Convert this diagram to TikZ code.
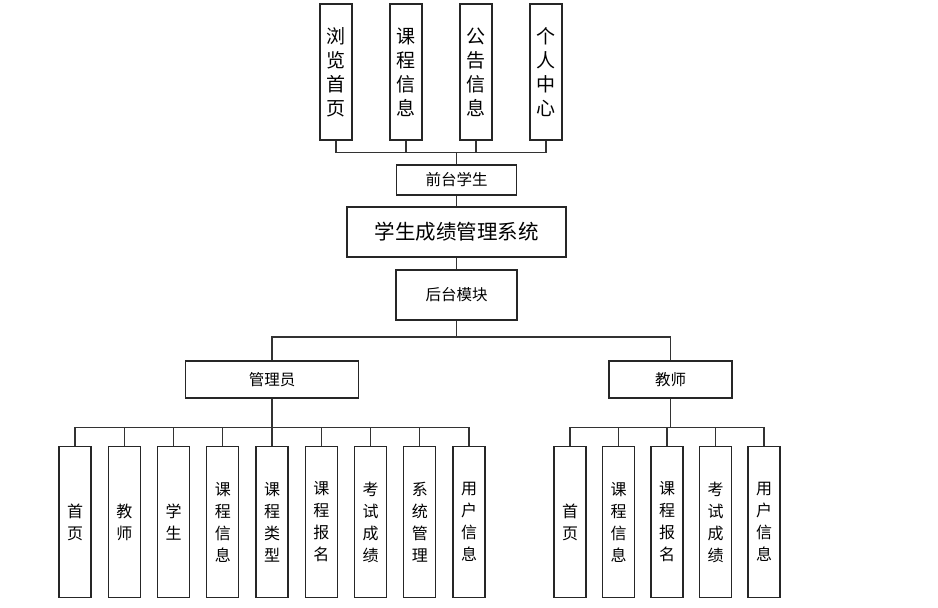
\documentclass[tikz,border=0pt]{standalone}
\usepackage{fontspec}
\newfontfamily\cjk{Noto Sans CJK SC}
\usetikzlibrary{calc}

\begin{document}
\begin{tikzpicture}[x=1pt,y=1pt,sibling distance=0pt,
	every node/.style={rectangle,draw=black!85,line width=1.3pt,inner sep=0pt,align=center,
		font=\cjk\fontsize{15.5}{18}\selectfont},
	edge from parent/.style={draw=black!80,line width=1.3pt},
	straight up/.style={edge from parent path={(\tikzparentnode.north) -- (\tikzchildnode.south)}},
	straight down/.style={edge from parent path={(\tikzparentnode.south) -- (\tikzchildnode.north)}},
	bus up/.style={edge from parent path={(\tikzparentnode.north) |- ($(\tikzparentnode.north)!#1!(\tikzchildnode.south)$) -| (\tikzchildnode.south)}},
	bus down/.style={edge from parent path={(\tikzparentnode.south) |- ($(\tikzparentnode.south)!#1!(\tikzchildnode.north)$) -| (\tikzchildnode.north)}},
	topbox/.style={minimum width=32pt,minimum height=136pt,font=\cjk\fontsize{19}{24}\selectfont},
	leafbox/.style={minimum width=32pt,minimum height=151pt,font=\cjk\fontsize{16}{22}\selectfont}]
\useasboundingbox (0,0) rectangle (938,-608);
\node (sys) at (456.5,-232) [minimum width=219pt,minimum height=50pt,font=\cjk\fontsize{20.5}{24}\selectfont] {学生成绩管理系统}
child[grow'=up,level distance=52pt,straight up] {node (front) [minimum width=120pt,minimum height=30pt] {前台学生}
	child[level distance=108pt,sibling distance=70pt,xshift=-15.5pt,bus up=.5] {node (browse) [topbox] {浏\\览\\首\\页}}
	child[level distance=108pt,sibling distance=70pt,xshift=-15.5pt,bus up=.5] {node (course) [topbox] {课\\程\\信\\息}}
	child[level distance=108pt,sibling distance=70pt,xshift=-15.5pt,bus up=.5] {node (notice) [topbox] {公\\告\\信\\息}}
	child[level distance=108pt,sibling distance=70pt,xshift=-15.5pt,bus up=.5] {node (center) [topbox] {个\\人\\中\\心}}
	}
child[grow=down,level distance=63pt,straight down] {node (back) [minimum width=121pt,minimum height=50pt] {后台模块}
	child[level distance=84.5pt,sibling distance=398.5pt,xshift=14.75pt,bus down=.415] {node (admin) [minimum width=173pt,minimum height=37pt] {管理员}
		child[level distance=142.5pt,sibling distance=49.25pt,bus down=.61] {node (a1) [leafbox] {首\\页}}
		child[level distance=142.5pt,sibling distance=49.25pt,bus down=.61] {node (a2) [leafbox] {教\\师}}
		child[level distance=142.5pt,sibling distance=49.25pt,bus down=.61] {node (a3) [leafbox] {学\\生}}
		child[level distance=142.5pt,sibling distance=49.25pt,bus down=.61] {node (a4) [leafbox] {课\\程\\信\\息}}
		child[level distance=142.5pt,sibling distance=49.25pt,bus down=.61] {node (a5) [leafbox] {课\\程\\类\\型}}
		child[level distance=142.5pt,sibling distance=49.25pt,bus down=.61] {node (a6) [leafbox] {课\\程\\报\\名}}
		child[level distance=142.5pt,sibling distance=49.25pt,bus down=.61] {node (a7) [leafbox] {考\\试\\成\\绩}}
		child[level distance=142.5pt,sibling distance=49.25pt,bus down=.61] {node (a8) [leafbox] {系\\统\\管\\理}}
		child[level distance=142.5pt,sibling distance=49.25pt,bus down=.61] {node (a9) [leafbox] {用\\户\\信\\息}}
		}
	child[level distance=84.5pt,sibling distance=398.5pt,xshift=14.75pt,bus down=.415] {node (teacher) [minimum width=123pt,minimum height=37pt] {教师}
		child[level distance=142.5pt,sibling distance=48.5pt,xshift=-3.5pt,bus down=.61] {node (t1) [leafbox] {首\\页}}
		child[level distance=142.5pt,sibling distance=48.5pt,xshift=-3.5pt,bus down=.61] {node (t2) [leafbox] {课\\程\\信\\息}}
		child[level distance=142.5pt,sibling distance=48.5pt,xshift=-3.5pt,bus down=.61] {node (t3) [leafbox] {课\\程\\报\\名}}
		child[level distance=142.5pt,sibling distance=48.5pt,xshift=-3.5pt,bus down=.61] {node (t4) [leafbox] {考\\试\\成\\绩}}
		child[level distance=142.5pt,sibling distance=48.5pt,xshift=-3.5pt,bus down=.61] {node (t5) [leafbox] {用\\户\\信\\息}}
		}
	};
\end{tikzpicture}
\end{document}
